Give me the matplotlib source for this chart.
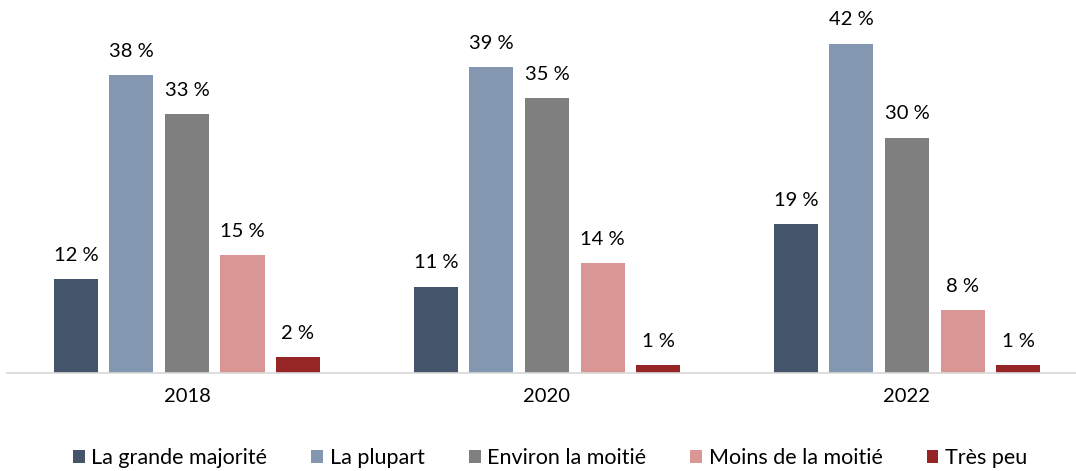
import numpy as np
import matplotlib.pyplot as plt

plt.rcParams['font.family'] = ['Lato', 'DejaVu Sans']

years = ['2018', '2020', '2022']
series = ['La grande majorité', 'La plupart', 'Environ la moitié',
          'Moins de la moitié', 'Très peu']
values = [
    [12, 11, 19],
    [38, 39, 42],
    [33, 35, 30],
    [15, 14, 8],
    [2, 1, 1],
]
colors = ['#44546A', '#8497B0', '#7F7F7F', '#DA9694', '#962625']

fig = plt.figure(figsize=(10.76, 4.71), dpi=100)
ax = fig.add_axes([7 / 1076, (471 - 373) / 471, 1069 / 1076, 353 / 471])

x = np.arange(len(years))
step = 55.5 / 360
width = 44 / 360
for i, (name, vals) in enumerate(zip(series, values)):
    pos = x + (i - 2) * step
    bars = ax.bar(pos, vals, width, color=colors[i], label=name, zorder=2)
    for b, v in zip(bars, vals):
        ax.annotate(f'{v} %', (b.get_x() + b.get_width() / 2, v),
                    xytext=(0, 11), textcoords='offset points',
                    ha='center', va='bottom', fontsize=14.5)

ax.set_xlim(-0.5, -0.5 + 1069 / 360)
ax.set_ylim(0, 45)
ax.set_xticks(x)
ax.set_xticklabels(years, fontsize=14.5)
ax.tick_params(axis='x', length=0, pad=11)
ax.set_yticks([])
for s in ['top', 'right', 'left']:
    ax.spines[s].set_visible(False)
ax.spines['bottom'].set_color('#D9D9D9')
ax.spines['bottom'].set_linewidth(1.2)

fig.legend(loc='center', bbox_to_anchor=(0.5 + 12 / 1076, 1 - 458 / 471), ncol=5,
           frameon=False, fontsize=15.5, handlelength=0.55, handleheight=0.55,
           handletextpad=0.3, columnspacing=2.05)

fig.savefig('out.png', dpi=100)
